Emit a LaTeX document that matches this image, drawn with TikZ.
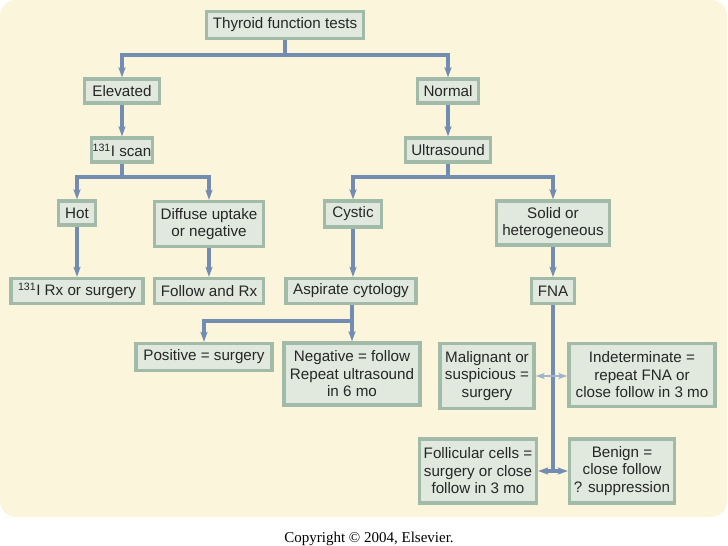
\documentclass[tikz,border=0pt]{standalone}
\usepackage{fontspec}
\setmainfont{Liberation Sans}
\newfontfamily\copyfont{Liberation Serif}
\usetikzlibrary{arrows.meta}
\definecolor{panel}{HTML}{FBF5DC}
\definecolor{boxfill}{HTML}{E1E9DF}
\definecolor{boxline}{HTML}{A2BBA8}
\definecolor{arrowc}{HTML}{738CB2}
\definecolor{arrowlight}{HTML}{A3B5CE}
\tikzset{
  box/.style={draw=boxline, line width=3.2pt, fill=boxfill, inner sep=0pt, align=center,
    font=\fontsize{15.2}{17.5}\selectfont, text=black!85},
  sz/.style 2 args={minimum width=#1pt, minimum height=#2pt},
  conn/.style={draw=arrowc, line width=3.2pt},
  arr/.style={conn, -{Stealth[length=10pt,width=7pt,inset=2pt]}},
  darr/.style={conn, {Stealth[length=10pt,width=7pt,inset=2pt]}-{Stealth[length=10pt,width=7pt,inset=2pt]}},
  larr/.style={draw=arrowlight, line width=2.2pt, {Stealth[length=9pt,width=6pt,inset=2pt]}-{Stealth[length=9pt,width=6pt,inset=2pt]}},
}
\begin{document}
\begin{tikzpicture}[x=1pt,y=-1pt]
\useasboundingbox (0,0) rectangle (728,546);
\fill[white] (0,0) rectangle (728,546);
\fill[panel] (0,0) [rounded corners=16pt] rectangle (727,517);

\node[box,sz={157}{27}] (tft) at (285,25) {Thyroid function tests};
\node[box,sz={75}{24}] (elev) at (122,91) {Elevated};
\node[box,sz={61}{24}] (normal) at (448,91) {Normal};
\node[box,sz={61}{24}] (scan) at (122,150) {\textsuperscript{131}I scan};
\node[box,sz={85}{24}] (us) at (448,150) {Ultrasound};
\node[box,sz={37}{24}] (hot) at (77,213) {Hot};
\node[box,sz={109}{45}] (diff) at (209,224) {Diffuse uptake\\or negative};
\node[box,sz={57}{26}] (cystic) at (353,214) {Cystic};
\node[box,sz={113}{44}] (solid) at (553,223) {Solid or\\heterogeneous};
\node[box,sz={132}{25}] (rx) at (77,291) {\textsuperscript{131}I Rx or surgery};
\node[box,sz={109}{25}] (follow) at (209,291) {Follow and Rx};
\node[box,sz={130}{25}] (asp) at (351,291) {Aspirate cytology};
\node[box,sz={43}{25}] (fna) at (553,291) {FNA};
\node[box,sz={136}{27}] (pos) at (204,357) {Positive = surgery};
\node[box,sz={136}{62}] (neg) at (352,374) {Negative = follow\\Repeat ultrasound\\in 6 mo};
\node[box,sz={94}{65}] (mal) at (487,376) {Malignant or\\suspicious =\\surgery};
\node[box,sz={146}{63}] (ind) at (642,375) {Indeterminate =\\repeat FNA or\\close follow in 3 mo};
\node[box,sz={117}{64}] (foll) at (478,471) {Follicular cells =\\surgery or close\\follow in 3 mo};
\node[box,sz={105}{64}] (ben) at (622,471) {Benign =\\close follow\\? suppression};

\coordinate (j1) at (285,55);
\coordinate (j2) at (122,177);
\coordinate (j3) at (448,177);
\coordinate (j4) at (352,321);
\coordinate (j5) at (553,376);
\coordinate (j6) at (553,471);

\draw[arr] (tft.south) -- (j1) -| (elev.north);
\draw[arr] (j1) -| (normal.north);
\draw[arr] (elev.south) -- (scan.north);
\draw[arr] (normal.south) -- (us.north);
\draw[arr] (scan.south) -- (j2) -| (hot.north);
\draw[arr] (j2) -| (diff.north);
\draw[arr] (us.south) -- (j3) -| (cystic.north);
\draw[arr] (j3) -| (solid.north);
\draw[arr] (hot.south) -- (rx.north);
\draw[arr] (diff.south) -- (follow.north);
\draw[arr] (cystic.south) -- (cystic.south |- asp.north);
\draw[arr] (solid.south) -- (fna.north);
\draw[conn] (asp.south -| j4) -- (j4);
\draw[arr] (j4) -| (pos.north);
\draw[arr] (j4) -- (neg.north -| j4);
\draw[conn] (fna.south) -- (j6);
\draw[larr] (mal.east |- j5) -- (ind.west |- j5);
\draw[darr] (foll.east |- j6) -- (ben.west |- j6);

\node[font=\copyfont\fontsize{15}{17}\selectfont, anchor=base] (copy) at (369,542) {Copyright © 2004, Elsevier.};
\end{tikzpicture}
\end{document}
